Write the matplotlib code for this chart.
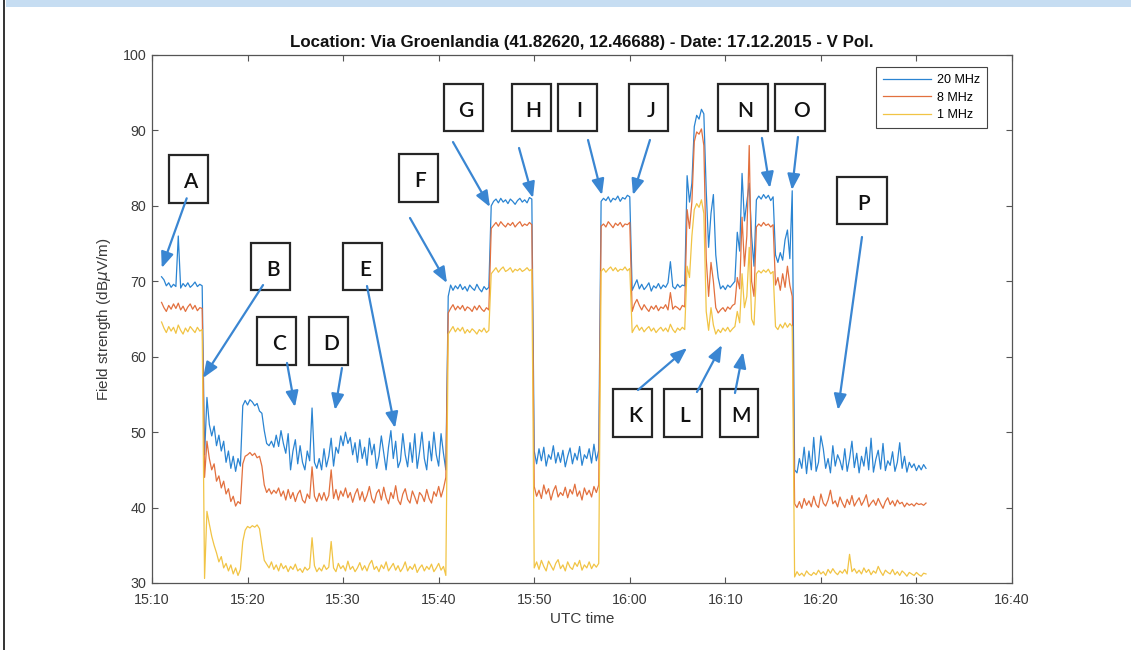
import numpy as np
import matplotlib
matplotlib.use("Agg")
import matplotlib.pyplot as plt
from matplotlib.patches import Rectangle
from matplotlib.lines import Line2D

# ---------------- data ----------------
# sampling clock: minutes after 15:10, one sample every 0.25 min starting 15:11
T0 = 1.0
STEP = 0.25

series_names = ["20 MHz", "8 MHz", "1 MHz"]

# segment A (15:11 - 15:15)
blue_A = [70.6, 70.2, 69.4, 69.8, 69.2, 69.6, 69.3, 76.0, 69.1, 69.7, 69.3, 69.8, 69.2, 69.5, 69.9, 69.3, 69.6, 69.4]
orange_A = [67.2, 66.5, 66.0, 66.8, 66.3, 67.0, 66.4, 67.1, 66.2, 66.7, 66.0, 66.6, 67.0, 66.3, 66.8, 66.1, 66.5, 66.4]
yellow_A = [64.6, 63.8, 63.2, 64.0, 63.4, 63.9, 63.1, 64.2, 63.5, 63.0, 63.8, 63.3, 64.0, 63.6, 63.2, 63.9, 63.4, 63.6]

# segment B-E (15:15.5 - 15:40.75)
blue_BE = [47.0, 54.6, 51.0, 49.5, 50.8, 48.2, 49.6, 47.5, 48.8, 46.0,
           47.5, 45.2, 46.8, 44.8, 46.5, 45.5, 53.5, 54.2, 53.6, 54.3,
           54.0, 53.5, 53.8, 52.8, 52.5, 50.2, 48.5, 48.2, 48.8, 48.0,
           49.6, 48.1, 50.2, 48.5, 47.2, 49.8, 45.0, 47.5, 49.0, 45.8,
           48.2, 46.0, 45.0, 47.5, 46.2, 53.2, 46.0, 45.2, 46.5, 45.0,
           47.8, 45.4, 46.8, 49.2, 45.5, 48.0, 47.2, 49.5, 48.2, 50.0,
           48.5, 49.3, 47.0, 48.6, 46.0, 49.0, 46.5, 48.0, 45.6, 49.2,
           47.0, 48.4, 45.2, 46.8, 49.5, 47.2, 45.0, 48.0, 50.2, 46.5,
           48.8, 45.3, 46.2, 49.8, 47.0, 45.4, 48.6, 46.0, 49.8, 45.2,
           47.4, 50.0, 46.5, 45.0, 48.8, 46.2, 50.0, 47.0, 45.5, 49.8,
           47.2, 45.0]
orange_BE = [44.0, 48.8, 46.5, 45.0, 45.8, 43.5, 44.2, 42.6, 43.5, 41.8,
             42.5, 40.8, 41.5, 40.2, 40.8, 40.5, 45.8, 46.8, 47.0, 47.3,
             46.9, 47.2, 46.6, 46.8, 45.5, 43.0, 42.0, 42.5, 41.8, 42.3,
             41.9, 42.6, 41.5, 42.2, 41.0, 42.4, 41.2, 42.0, 40.8, 41.8,
             42.3, 41.0, 40.6, 41.8, 41.2, 45.4, 41.5, 40.8, 41.9, 41.0,
             42.0, 40.9, 41.6, 45.0, 41.2, 42.4, 41.0, 42.2, 41.5, 42.6,
             41.3, 42.0, 40.7, 41.8, 42.5, 41.0, 42.1, 40.8, 41.6, 42.8,
             41.2, 40.6, 41.9, 42.4, 41.0, 42.7, 41.3, 40.5, 42.0, 41.2,
             42.9, 41.0, 40.4, 41.8, 42.5, 41.1, 40.6, 42.2, 41.4, 40.5,
             42.0, 41.6, 40.8, 42.4, 41.2, 40.6, 42.1, 41.5, 42.8, 41.4,
             42.5, 44.0]
yellow_BE = [30.6, 39.5, 37.8, 36.2, 35.0, 34.0, 32.8, 33.5, 32.0, 32.6,
             31.6, 32.4, 31.2, 32.0, 31.0, 31.8, 35.5, 37.0, 37.5, 37.3,
             37.6, 37.4, 37.7, 37.2, 35.0, 33.0, 32.5, 32.0, 32.8, 31.8,
             32.4, 31.6, 32.6, 31.9, 32.3, 31.5, 32.2, 31.8, 32.5, 31.6,
             31.9, 31.4, 32.1, 31.7, 32.0, 36.0, 32.3, 31.5, 32.0, 31.6,
             32.4, 31.8, 32.1, 35.5, 32.0, 31.5, 32.6, 31.9, 32.3, 31.6,
             32.9, 31.8, 32.2, 31.5, 32.0, 32.7, 31.7, 32.3, 31.6, 32.5,
             33.0, 31.8, 32.2, 31.5, 32.4, 31.9, 32.8, 31.6, 32.1, 32.6,
             31.7, 32.3, 31.5, 32.0, 32.8, 31.6, 32.2, 31.8, 32.5, 31.4,
             32.0, 32.4, 31.6, 32.2, 31.8, 32.5, 31.5, 32.0, 32.6, 31.7,
             32.2, 31.0]

# segment F (15:41 - 15:45.25)
blue_F = [68.0, 69.5, 68.8, 69.4, 69.0, 69.6, 68.9, 69.3, 68.7, 69.5, 69.1, 68.8, 69.6, 69.0, 68.6, 69.3, 68.9, 69.2]
orange_F = [65.8, 66.4, 66.9, 66.2, 66.7, 66.3, 66.8, 66.1, 66.6, 66.4, 66.0, 66.7, 66.2, 66.8, 66.3, 66.0, 66.5, 66.2]
yellow_F = [63.0, 63.5, 64.0, 63.3, 63.8, 63.4, 63.9, 63.1, 63.6, 63.2, 63.7, 63.4, 63.0, 63.6, 63.3, 63.8, 63.2, 63.5]

# segment G-H (15:45.5 - 15:49.75)
blue_G = [80.0, 80.6, 80.9, 80.4, 81.0, 80.5, 80.8, 80.3, 80.9, 80.6, 80.2, 80.7, 81.0, 80.5, 80.8, 80.4, 81.1, 80.9]
orange_G = [77.0, 77.4, 77.8, 77.3, 77.9, 77.5, 77.2, 77.7, 77.4, 77.8, 77.2, 77.6, 77.9, 77.3, 77.6, 77.4, 77.8, 77.5]
yellow_G = [71.0, 71.4, 71.8, 71.2, 71.6, 71.9, 71.3, 71.5, 71.8, 71.2, 71.6, 71.4, 71.7, 71.3, 71.5, 71.8, 71.4, 71.6]

# low segment (15:50 - 15:56.75)
blue_L1 = [47.5, 45.8, 47.8, 46.2, 48.0, 45.5, 47.0, 46.4, 48.2, 45.9, 47.3, 46.0, 47.6, 45.4,
           46.8, 47.9, 45.8, 47.2, 46.3, 48.1, 45.6, 47.0, 46.5, 47.8, 45.9, 48.4, 46.2, 47.6]
orange_L1 = [42.8, 41.5, 42.3, 41.2, 43.0, 41.8, 42.5, 41.0, 42.2, 42.9, 41.4, 42.0, 41.6, 42.7,
             41.3, 42.4, 41.8, 43.1, 41.5, 42.2, 41.0, 42.6, 41.7, 42.3, 41.4, 42.8, 42.0, 43.0]
yellow_L1 = [32.0, 32.8, 31.8, 33.0, 32.2, 31.6, 32.9, 32.3, 31.7, 32.6, 33.1, 31.9, 32.4, 31.6,
             32.8, 32.1, 31.8, 32.7, 32.2, 33.0, 31.7, 32.4, 32.0, 32.8, 31.9, 32.5, 32.1, 32.6]

# segment I-J (15:57 - 16:00)
blue_IJ = [80.6, 81.0, 80.7, 81.2, 80.5, 81.0, 80.8, 81.3, 80.6, 81.1, 80.9, 81.4, 81.2]
orange_IJ = [77.3, 77.6, 77.2, 77.9, 77.5, 77.1, 77.7, 77.4, 77.8, 77.2, 77.6, 77.5, 77.8]
yellow_IJ = [71.3, 71.7, 71.2, 71.6, 71.9, 71.4, 71.8, 71.3, 71.6, 71.5, 71.9, 71.4, 71.7]

# segment K (16:00.25 - 16:05.75)
blue_K = [68.8, 69.5, 70.2, 69.0, 69.6, 68.9, 69.3, 69.8, 68.7, 69.4, 69.1, 69.7,
          69.0, 69.5, 69.2, 69.8, 72.6, 69.3, 69.0, 69.6, 69.2, 69.5, 69.4]
orange_K = [66.0, 67.0, 67.6, 66.8, 66.2, 66.9, 66.4, 66.0, 66.7, 66.3, 66.8, 66.1,
            66.6, 66.4, 66.9, 66.2, 68.5, 66.3, 66.7, 66.5, 66.2, 66.8, 66.6]
yellow_K = [63.2, 63.8, 64.2, 63.5, 63.9, 63.3, 63.7, 64.0, 63.4, 63.8, 63.2, 63.6,
            63.9, 63.4, 63.8, 63.3, 64.3, 63.6, 63.2, 63.8, 63.5, 63.9, 63.6]

# segment L-O (16:06 - 16:17)
blue_LO = [84.0, 80.5, 83.0, 90.5, 92.0, 91.5, 92.8, 92.2, 82.0, 74.5,
           79.0, 81.5, 73.5, 70.5, 69.0, 69.4, 68.9, 69.5, 69.2, 69.6,
           70.0, 76.5, 74.0, 84.3, 78.0, 80.5, 83.0, 76.0, 72.0, 80.8,
           81.3, 80.9, 81.5, 81.0, 81.4, 80.7, 81.2, 73.5, 72.5, 73.8,
           72.8, 75.5, 76.8, 73.0, 82.0]
orange_LO = [79.5, 77.0, 80.5, 88.5, 89.8, 89.5, 90.2, 88.0, 73.0, 68.0,
             72.5, 70.0, 66.5, 65.8, 66.2, 66.5, 66.0, 66.6, 66.3, 66.8,
             67.0, 70.5, 69.0, 78.5, 72.0, 76.0, 88.0, 70.0, 68.0, 77.2,
             77.6, 77.3, 77.8, 77.4, 77.6, 77.2, 77.5, 69.5, 70.5, 68.8,
             71.0, 69.2, 72.0, 69.5, 68.0]
yellow_LO = [72.0, 70.5, 76.0, 79.5, 80.3, 79.8, 80.8, 79.0, 66.0, 63.5,
             66.5, 64.2, 63.0, 63.6, 63.2, 63.8, 63.4, 63.9, 63.3, 63.7,
             64.0, 66.0, 64.5, 71.0, 66.5, 68.0, 74.5, 65.0, 64.2, 71.0,
             71.4, 71.1, 71.5, 71.2, 71.6, 71.0, 71.3, 64.0, 63.6, 64.3,
             63.8, 64.5, 63.9, 64.4, 64.0]

# segment P (16:17.25 - 16:31)
blue_P = [45.0, 44.6, 46.5, 45.2, 48.0, 44.5, 47.5, 45.0, 49.3, 44.8,
          46.0, 49.5, 47.8, 45.2, 46.5, 44.6, 48.2, 45.5, 47.0, 46.2,
          45.0, 47.8, 44.8, 46.5, 48.8, 45.3, 47.2, 44.6, 46.8, 45.5,
          48.0, 45.0, 49.2, 44.7, 46.4, 47.6, 45.1, 48.5, 44.9, 46.2,
          45.6, 47.4, 44.8, 46.0, 48.6, 45.2, 46.8, 44.7, 46.0, 45.3,
          45.8, 44.9, 45.6, 45.0, 45.7, 45.2]
orange_P = [40.5, 40.0, 40.8, 39.9, 41.2, 40.3, 40.9, 40.1, 41.5, 40.4,
            40.0, 41.8, 40.6, 40.2, 41.0, 42.3, 40.5, 40.9, 40.1, 41.4,
            40.6, 40.0, 41.1, 40.4, 41.6, 40.2, 40.8, 41.3, 40.3, 40.9,
            41.7, 40.1, 40.6, 41.0, 40.3, 41.2, 40.5, 39.9, 40.8, 41.3,
            40.4, 40.9, 40.2, 41.0, 40.5, 40.7, 40.1, 40.6, 40.3, 40.5,
            40.2, 40.6, 40.4, 40.5, 40.3, 40.6]
yellow_P = [30.8, 31.5, 31.0, 31.3, 30.9, 31.6, 31.2, 31.0, 31.4, 31.1,
            31.7, 31.2, 31.5, 31.0, 31.8, 31.3, 31.9, 31.4, 31.1, 31.6,
            31.3, 31.8, 31.2, 33.8, 31.5, 31.9, 31.3, 31.7, 31.2, 32.0,
            31.4, 31.8, 31.1, 31.6, 31.3, 32.2, 31.5, 31.0, 31.7, 31.4,
            31.2, 31.8, 31.1, 31.5, 31.0, 31.6, 31.3, 30.9, 31.4, 31.2,
            31.0, 31.4, 31.1, 30.9, 31.3, 31.2]

x_ticks = [0, 10, 20, 30, 40, 50, 60, 70, 80, 90]
x_tick_labels = ["15:10", "15:20", "15:30", "15:40", "15:50", "16:00", "16:10", "16:20", "16:30", "16:40"]
y_ticks = [30, 40, 50, 60, 70, 80, 90, 100]

# annotation boxes: label, box centre (min, dB), box width (min), arrow tail, arrow tip
annotations = [
    ("A", (3.82, 83.56), 4.08, (3.63, 81.0), (1.02, 71.76)),
    ("B", (12.45, 71.96), 4.08, (11.62, 69.5), (5.34, 57.18)),
    ("C", (13.08, 62.08), 4.08, (14.13, 59.17), (14.96, 53.33)),
    ("D", (18.52, 62.02), 4.08, (19.88, 58.5), (19.15, 52.94)),
    ("E", (22.08, 71.96), 4.08, (22.5, 69.37), (25.43, 50.55)),
    ("F", (27.84, 83.69), 4.08, (27.0, 78.39), (30.87, 69.77)),
    ("G", (32.65, 93.04), 4.08, (31.5, 88.46), (35.37, 79.85)),
    ("H", (39.71, 93.04), 4.08, (38.41, 87.67), (39.87, 81.04)),
    ("I", (44.53, 93.04), 4.08, (45.63, 88.73), (47.09, 81.44)),
    ("J", (52.01, 93.04), 4.08, (52.11, 88.73), (50.33, 81.44)),
    ("N", (61.85, 93.04), 5.23, (63.83, 89.0), (64.67, 82.37)),
    ("O", (67.81, 93.04), 5.23, (67.6, 89.13), (66.97, 82.1)),
    ("K", (50.33, 52.6), 4.08, (50.86, 55.59), (55.99, 61.15)),
    ("L", (55.57, 52.6), 4.08, (57.03, 55.32), (59.64, 61.55)),
    ("M", (61.43, 52.6), 4.08, (61.01, 55.19), (61.85, 60.62)),
    ("P", (74.30, 80.71), 5.23, (74.3, 75.87), (71.79, 52.94)),
]
BOX_H = 6.36

# ---------------- figure ----------------
plt.rcParams['font.family'] = ['Liberation Sans', 'DejaVu Sans']

fig = plt.figure(figsize=(11.31, 6.5), dpi=100)
fig.patch.set_facecolor('white')

# page decorations
fig.add_artist(Rectangle((6 / 1131, 1 - 7 / 650), 1, 7 / 650, transform=fig.transFigure,
                         facecolor='#c6ddf2', edgecolor='none'))
fig.add_artist(Line2D([3.5 / 1131, 3.5 / 1131], [0, 1], transform=fig.transFigure,
                      color='#111111', lw=1.2))

ax = fig.add_axes([152 / 1131, 1 - 583 / 650, 860 / 1131, 528 / 650])

blue = np.concatenate([blue_A, blue_BE, blue_F, blue_G, blue_L1, blue_IJ, blue_K, blue_LO, blue_P])
orange = np.concatenate([orange_A, orange_BE, orange_F, orange_G, orange_L1, orange_IJ, orange_K, orange_LO, orange_P])
yellow = np.concatenate([yellow_A, yellow_BE, yellow_F, yellow_G, yellow_L1, yellow_IJ, yellow_K, yellow_LO, yellow_P])
t = T0 + STEP * np.arange(len(blue))

colors = ['#2a84d2', '#e2703e', '#f1c445']
for vals, c, name in zip([blue, orange, yellow], colors, series_names):
    ax.plot(t, vals, color=c, lw=0.9, label=name)

ax.set_xlim(0, 90)
ax.set_ylim(30, 100)
ax.set_xticks(x_ticks)
ax.set_xticklabels(x_tick_labels)
ax.set_yticks(y_ticks)
ax.tick_params(direction='in', length=4, width=0.8, top=True, right=True,
               labelsize=10.3, labelcolor='#3a3a3a', color='#555555')
ax.tick_params(axis='x', pad=7)
ax.tick_params(axis='y', pad=4)
for s in ax.spines.values():
    s.set_color('#555555')
    s.set_linewidth(0.9)

ax.set_title("Location: Via Groenlandia (41.82620, 12.46688) - Date: 17.12.2015 - V Pol.",
             fontsize=12.2, fontweight='bold', color='#111111', pad=6)
ax.set_xlabel("UTC time", fontsize=11, color='#3a3a3a', labelpad=4)
ax.set_ylabel(r"Field strength (dB$\mu$V/m)", fontsize=11, color='#3a3a3a', labelpad=7)

leg = ax.legend(loc='upper right', bbox_to_anchor=(0.971, 0.977), borderaxespad=0,
                fontsize=9, frameon=True, fancybox=False, framealpha=1,
                edgecolor='#444444', handlelength=3.8, handletextpad=0.5,
                labelspacing=0.45, borderpad=0.55)
leg.get_frame().set_linewidth(0.8)

arrow_color = '#3a86d2'
for label, (cx, cy), w, tail, tip in annotations:
    ax.add_patch(Rectangle((cx - w / 2, cy - BOX_H / 2), w, BOX_H, facecolor='white',
                           edgecolor='#262626', lw=1.6, zorder=5))
    ax.text(cx + 0.2, cy - 0.4, label, ha='center', va='center', fontsize=15,
            family=['Lato', 'DejaVu Sans'], fontweight='semibold', color='#111111', zorder=6)
    ax.annotate('', xy=tip, xytext=tail,
                arrowprops=dict(arrowstyle='-|>,head_length=0.95,head_width=0.38',
                                mutation_scale=10, color=arrow_color, lw=1.6,
                                shrinkA=0, shrinkB=0), zorder=7)

fig.savefig('out.png', dpi=100)
